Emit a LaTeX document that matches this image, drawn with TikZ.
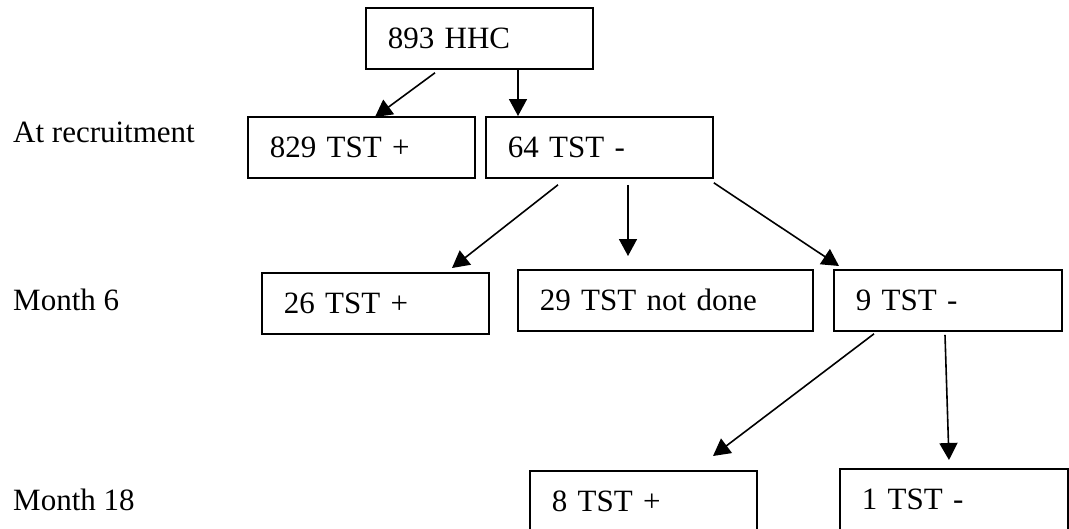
\documentclass[tikz,border=0pt]{standalone}
\usepackage{fontspec}
\setmainfont{Liberation Serif}
\usepackage{tikz}
\usetikzlibrary{arrows.meta,calc}

\begin{document}
\begin{tikzpicture}[
  x=1pt,y=-1pt,
  every node/.style={font=\fontsize{31}{35}\selectfont},
  box/.style={draw,line width=1.8pt,anchor=north west,minimum height=61pt,
    text width=#1-44pt,inner xsep=22pt,inner ysep=0pt,align=left,
    text height=21pt,text depth=0pt},
  box/.default=227pt,
  stage/.style={anchor=base west,inner sep=0pt},
  arr/.style={-{Triangle[length=17pt,width=18pt]},line width=1.6pt}
]
\useasboundingbox (0,0) rectangle (1069,528);
% stages
\node[stage] (rec) at (13,142) {At recruitment};
\node[stage] (m6) at (13,310) {Month 6};
\node[stage] (m18) at (13,510) {Month 18};
% test results
\node[box] (hhc) at (365,7) {893 HHC};
\node[box] (pos0) at (247,116) {829 TST +};
\node[box] (neg0) at (485,116) {64 TST -};
\node[box] (pos6) at (261,272) {26 TST +};
\node[box=295pt] (nd6) at (517,269) {29 TST not done};
\node[box=228pt] (neg6) at (833,269) {9 TST -};
\node[box] (pos18) at (529,470) {8 TST +};
\node[box=228pt] (neg18) at (839,468) {1 TST -};
% splits
\draw[arr] ($(hhc.south west)+(70,3)$) -- ($(pos0.north west)+(128,1)$);
\draw[arr] ($(hhc.south west)+(153,0)$) -- ($(neg0.north west)+(33,0)$);
\draw[arr] ($(neg0.south west)+(73,6)$) -- ($(pos6.north west)+(191,-4)$);
\draw[arr] ($(neg0.south west)+(143,6)$) -- ($(nd6.north west)+(111,-13)$);
\draw[arr] ($(neg0.south east)+(0,4)$) -- ($(neg6.north west)+(6,-3)$);
\draw[arr] ($(neg6.south west)+(41,2)$) -- ($(pos18.north west)+(184,-14)$);
\draw[arr] ($(neg6.south west)+(112,3)$) -- ($(neg18.north west)+(110,-8)$);
\end{tikzpicture}
\end{document}
